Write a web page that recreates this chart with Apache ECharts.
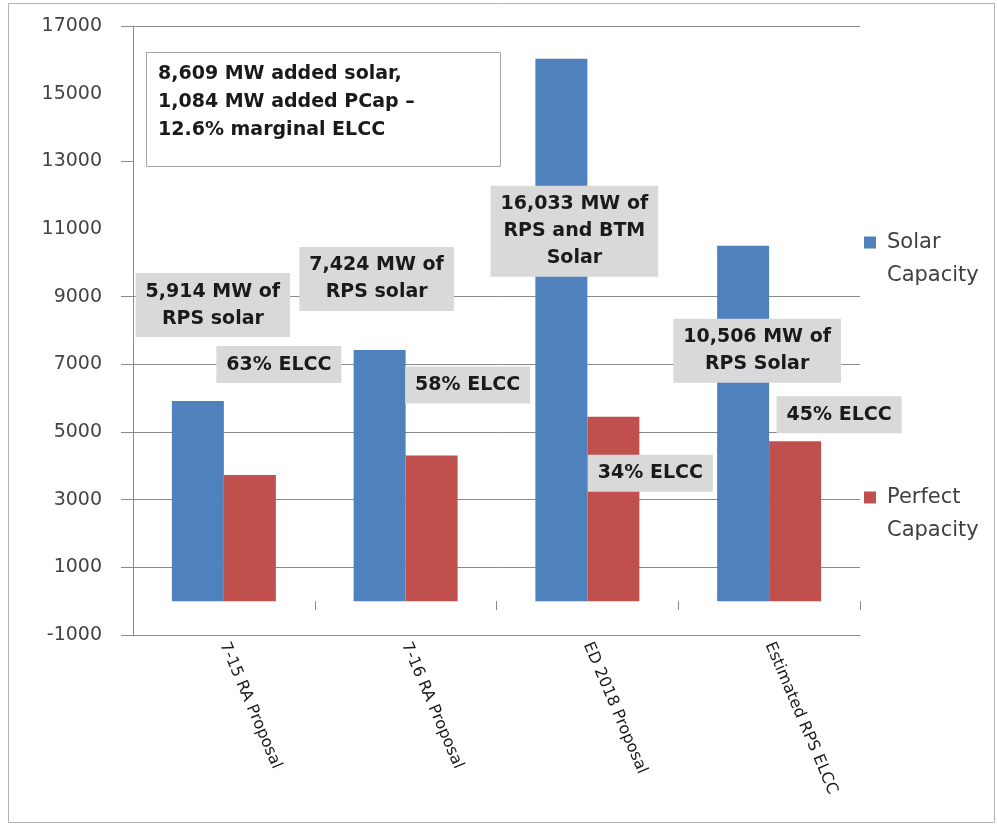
<!DOCTYPE html>
<html>
<head>
<meta charset="utf-8">
<script src="https://cdn.jsdelivr.net/npm/echarts@6/dist/echarts.min.js"></script>
<style>
  html, body { margin: 0; padding: 0; background: #ffffff; }
  #chart { width: 997px; height: 826px; }
</style>
</head>
<body>
<div id="chart"></div>
<script>
// Chart data
const categories = ['7-15 RA Proposal', '7-16 RA Proposal', 'ED 2018 Proposal', 'Estimated RPS ELCC'];
const solarCapacity = [5914, 7424, 16033, 10506];      // MW
const perfectCapacity = [3726, 4306, 5451, 4728];      // MW
const elccPercent = [63, 58, 34, 45];
const solarDescriptions = ['RPS solar', 'RPS solar', 'RPS and BTM\nSolar', 'RPS Solar'];
const seriesNames = ['Solar Capacity', 'Perfect Capacity'];
const yAxisMin = -1000;
const yAxisMax = 17000;
const yAxisStep = 2000;
const yLabelValues = [-1000, 1000, 3000, 5000, 7000, 9000, 11000, 13000, 15000, 17000];
const yTickValues = [-1000, 1000, 3000, 5000, 7000, 9000, 13000, 17000];
const noteLines = ['8,609 MW added solar,', '1,084 MW added PCap \u2013', '12.6% marginal ELCC'];

// Layout / style
const FONT = 'DejaVu Sans';
const BLUE = '#4f81bd';
const RED = '#c0504d';
const GRID_COLOR = '#8a8a8a';
const solarLabelOffsets = [[15, -64], [-3, -39], [13, 218], [14, 137]];
const perfectLabelOffsets = [[29, -92], [36, -52], [37, 75], [44, -8]];

// Split lines from the minimum upwards; gaps where no rule is drawn
const splitColors = yLabelValues.map(v => (yTickValues.indexOf(v) >= 0 ? GRID_COLOR : 'rgba(0,0,0,0)'));

const boxLabel = {
  show: true,
  position: 'top',
  distance: 0,
  backgroundColor: '#d9d9d9',
  padding: [5, 10],
  color: '#1a1a1a',
  fontFamily: FONT,
  fontWeight: 'bold',
  fontSize: 19,
  lineHeight: 27,
  align: 'center'
};

const solarData = solarCapacity.map((v, i) => ({
  value: v,
  label: Object.assign({}, boxLabel, {
    offset: solarLabelOffsets[i],
    formatter: () => v.toLocaleString('en-US') + ' MW of\n' + solarDescriptions[i]
  })
}));

const perfectData = perfectCapacity.map((v, i) => ({
  value: v,
  label: Object.assign({}, boxLabel, {
    offset: perfectLabelOffsets[i],
    formatter: () => elccPercent[i] + '% ELCC'
  })
}));

const chart = echarts.init(document.getElementById('chart'), null, { renderer: 'canvas' });

chart.setOption({
  animation: false,
  backgroundColor: '#ffffff',
  grid: { left: 133, right: 137, top: 26, bottom: 191, outerBoundsMode: 'none' },
  legend: {
    orient: 'vertical',
    left: 864,
    top: 193,
    padding: 0,
    itemWidth: 12,
    itemHeight: 12,
    itemGap: 156,
    icon: 'rect',
    data: seriesNames,
    // leading blank line keeps the first word level with the swatch
    formatter: name => '\n' + name.replace(' ', '\n'),
    textStyle: {
      fontFamily: FONT,
      fontSize: 21,
      color: '#404040',
      lineHeight: 33,
      padding: [0, 0, 0, 6]
    }
  },
  xAxis: [
    {
      // category axis crossing at zero: ticks only
      type: 'category',
      data: categories,
      position: 'bottom',
      axisLine: { show: true, onZero: true, lineStyle: { color: 'rgba(0,0,0,0)' } },
      axisTick: { show: true, length: 9, lineStyle: { color: GRID_COLOR } },
      axisLabel: { show: false },
      splitLine: { show: false }
    },
    {
      // category names along the bottom edge
      type: 'category',
      data: categories,
      position: 'bottom',
      axisLine: { show: true, onZero: false, lineStyle: { color: GRID_COLOR } },
      axisTick: { show: false },
      axisLabel: {
        rotate: -67,
        margin: 8,
        fontFamily: FONT,
        fontSize: 16,
        color: '#1a1a1a'
      },
      splitLine: { show: false }
    }
  ],
  yAxis: {
    type: 'value',
    min: yAxisMin,
    max: yAxisMax,
    interval: yAxisStep,
    axisLine: { show: true, lineStyle: { color: GRID_COLOR } },
    axisTick: { show: true, inside: false, length: 12, customValues: yTickValues, lineStyle: { color: GRID_COLOR } },
    axisLabel: {
      margin: 31,
      customValues: yLabelValues,
      formatter: v => String(v),
      fontFamily: FONT,
      fontSize: 19,
      color: '#444444'
    },
    splitLine: { show: true, lineStyle: { color: splitColors, width: 1 } }
  },
  series: [
    {
      name: seriesNames[0],
      type: 'bar',
      xAxisIndex: 0,
      barWidth: 52,
      barGap: '0%',
      itemStyle: { color: BLUE },
      data: solarData
    },
    {
      name: seriesNames[1],
      type: 'bar',
      xAxisIndex: 0,
      barWidth: 52,
      barGap: '0%',
      itemStyle: { color: RED },
      data: perfectData
    }
  ],
  graphic: [
    {
      type: 'rect',
      silent: true,
      z: -10,
      shape: { x: 8.5, y: 3.5, width: 986, height: 819 },
      style: { fill: 'none', stroke: '#b4b4b4', lineWidth: 1 }
    },
    {
      type: 'group',
      left: 146,
      top: 52,
      z: 100,
      children: [
        {
          type: 'rect',
          shape: { x: 0.5, y: 0.5, width: 354, height: 114 },
          style: { fill: '#ffffff', stroke: '#a6a6a6', lineWidth: 1 }
        },
        {
          type: 'text',
          x: 12,
          y: 8,
          style: {
            text: noteLines.join('\n'),
            fontFamily: FONT,
            fontWeight: 'bold',
            fontSize: 19,
            lineHeight: 28,
            fill: '#1a1a1a'
          }
        }
      ]
    }
  ]
});
</script>
</body>
</html>
